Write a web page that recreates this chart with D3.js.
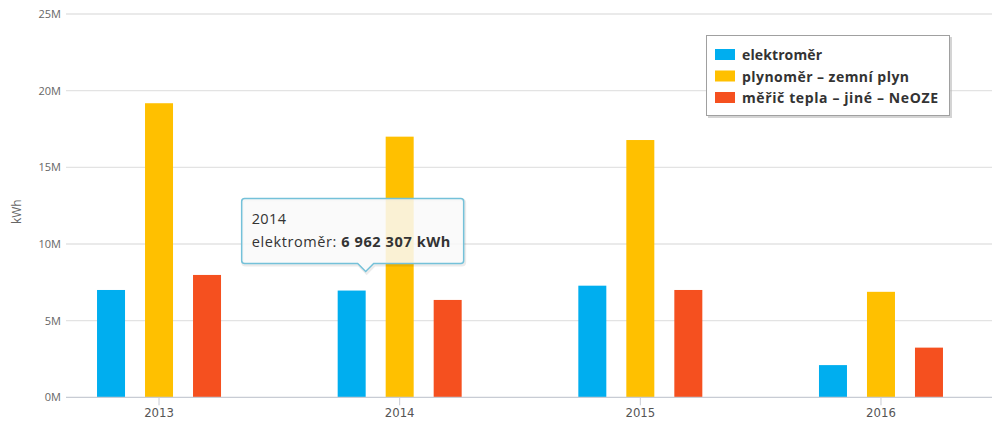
<!DOCTYPE html>
<html>
<head>
<meta charset="utf-8">
<script src="https://cdn.jsdelivr.net/npm/d3@7/dist/d3.min.js"></script>
<style>
  html, body { margin: 0; padding: 0; background: #fff; }
  svg { display: block; font-family: "Open Sans", "DejaVu Sans", sans-serif; }
</style>
</head>
<body>
<svg id="chart" width="992" height="422"></svg>
<script>
// Energy consumption per meter type, yearly totals in kWh
const years = ["2013", "2014", "2015", "2016"];
const seriesNames = ["elektroměr", "plynoměr – zemní plyn", "měřič tepla – jiné – NeOZE"];
const seriesColors = ["#00aeef", "#ffc000", "#f5501f"];
const elektromer = [7000000, 6962307, 7280000, 2100000];
const plynomer = [19180000, 17000000, 16780000, 6880000];
const mericTepla = [7980000, 6350000, 7000000, 3240000];
const yTicks = [0, 5000000, 10000000, 15000000, 20000000, 25000000];
const yTitle = "kWh";
// Hovered point shown in the tooltip
const tipYear = "2014";
const tipSeries = 0;

const values = [elektromer, plynomer, mericTepla];

const svg = d3.select("#chart");
const plotLeft = 66, plotRight = 992, plotTop = 14, plotBottom = 397.3;

const y = d3.scaleLinear().domain([0, 25000000]).range([plotBottom, plotTop]);
const x = d3.scaleBand().domain(years).range([38.7, 1001.3]).padding(0);
const xs = d3.scaleBand().domain(d3.range(seriesNames.length)).range([-62, 62])
  .paddingInner(1 - 28 / 48).paddingOuter(0);

// horizontal grid
svg.append("g").selectAll("line").data(yTicks.slice(1)).join("line")
  .attr("x1", plotLeft).attr("x2", plotRight)
  .attr("y1", d => y(d)).attr("y2", d => y(d))
  .attr("stroke", "#e3e3e3").attr("stroke-width", 1.3);

// y axis labels
const yAxis = d3.axisLeft(y).tickValues(yTicks).tickSize(0).tickPadding(0)
  .tickFormat(d => (d / 1e6) + "M");
const yg = svg.append("g").attr("transform", `translate(61,0)`).call(yAxis);
yg.select(".domain").remove();
yg.selectAll("text").attr("fill", "#666").style("font-size", "11px")
  .style("font-family", "'Open Sans', sans-serif");

// y axis title
svg.append("text")
  .attr("transform", `translate(21,${(plotTop + plotBottom) / 2 + 6}) rotate(-90)`)
  .attr("text-anchor", "middle").attr("fill", "#666")
  .style("font-size", "12px").text(yTitle);

// bars
const groups = svg.append("g").selectAll("g").data(years).join("g")
  .attr("transform", d => `translate(${x(d) + x.bandwidth() / 2},0)`);
groups.selectAll("rect")
  .data((yr, i) => values.map((s, k) => ({ k, v: s[i] })))
  .join("rect")
  .attr("x", d => xs(d.k)).attr("width", xs.bandwidth())
  .attr("y", d => y(d.v)).attr("height", d => plotBottom - y(d.v))
  .attr("fill", d => seriesColors[d.k]);

// x axis
svg.append("line").attr("x1", plotLeft).attr("x2", plotRight)
  .attr("y1", plotBottom).attr("y2", plotBottom)
  .attr("stroke", "#c8ccd4").attr("stroke-width", 1.2);
const xAxis = d3.axisBottom(x).tickSize(8).tickPadding(2);
const xg = svg.append("g").attr("transform", `translate(0,${plotBottom})`).call(xAxis);
xg.select(".domain").remove();
xg.selectAll(".tick line").attr("stroke", "#c8ccd4");
xg.selectAll("text").attr("fill", "#555").style("font-size", "13px")
  .style("font-family", "'DejaVu Sans Condensed', 'DejaVu Sans', sans-serif")
  .style("font-weight", "300");

// legend
const lg = svg.append("g").attr("transform", "translate(706,35)");
lg.append("rect").attr("x", 2).attr("y", 2).attr("width", 244).attr("height", 81)
  .attr("fill", "#b8b8b8").attr("opacity", 0.6);
lg.append("rect").attr("x", 0.5).attr("y", 0.5).attr("width", 243).attr("height", 80)
  .attr("fill", "#fff").attr("stroke", "#a0a0a0").attr("stroke-width", 1);
const items = lg.selectAll("g.item").data(seriesNames).join("g").attr("class", "item")
  .attr("transform", (d, i) => `translate(9,${14 + i * 21.5})`);
items.append("rect").attr("width", 20).attr("height", 11)
  .attr("fill", (d, i) => seriesColors[i]);
items.append("text").attr("x", 27).attr("y", 11).attr("fill", "#333")
  .style("font-size", "14px").style("font-weight", "700")
  .attr("textLength", (d, i) => [80, 167, 196][i]).attr("lengthAdjust", "spacing")
  .text(d => d);

// tooltip for the hovered point
const tipX = x(tipYear) + x.bandwidth() / 2 + xs(tipSeries) + xs.bandwidth();
const tipY = y(values[tipSeries][years.indexOf(tipYear)]) - 19;
const tw = 222, th = 65;
const bx = tipX - 124, by = tipY - 8 - th;
const tt = svg.append("g");
const path = `M${bx + 3},${by} H${bx + tw - 3} Q${bx + tw},${by} ${bx + tw},${by + 3}
  V${by + th - 3} Q${bx + tw},${by + th} ${bx + tw - 3},${by + th}
  H${tipX + 8} L${tipX},${by + th + 8} L${tipX - 8},${by + th}
  H${bx + 3} Q${bx},${by + th} ${bx},${by + th - 3} V${by + 3} Q${bx},${by} ${bx + 3},${by} Z`;
tt.append("path").attr("d", path).attr("transform", "translate(1,1.5)")
  .attr("fill", "none").attr("stroke", "#000").attr("stroke-opacity", 0.08).attr("stroke-width", 3);
tt.append("path").attr("d", path)
  .attr("fill", "rgba(249,249,249,0.85)").attr("stroke", "#74c1d9").attr("stroke-width", 1.5);
tt.append("text").attr("x", bx + 10).attr("y", by + 25).attr("fill", "#333")
  .style("font-size", "14.5px").style("letter-spacing", "0.4px").text(tipYear);
const line2 = tt.append("text").attr("x", bx + 10).attr("y", by + 48).attr("fill", "#333")
  .style("font-size", "14.5px").style("letter-spacing", "0.6px");
line2.append("tspan").text(seriesNames[tipSeries] + ": ");
const fmt = v => d3.format(",")(v).replace(/,/g, " ");
line2.append("tspan").style("font-weight", "700")
  .text(fmt(values[tipSeries][years.indexOf(tipYear)]) + " kWh");
</script>
</body>
</html>
